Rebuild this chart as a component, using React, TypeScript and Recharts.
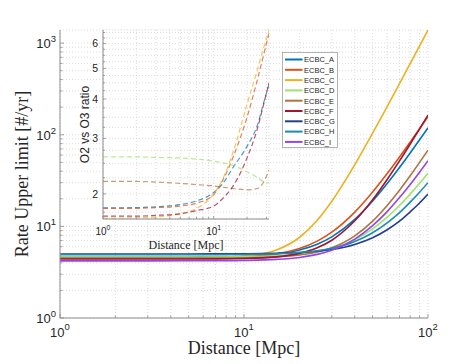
import React from 'react';
import { LineChart, Line, XAxis, YAxis, CartesianGrid } from 'recharts';

// ---------- main plot data (rate upper limit vs distance) ----------
const distances = [1, 2, 3, 5, 7, 10, 15, 20, 25, 30, 40, 50, 60, 70, 80, 90, 100];
const ecbcA = [4.6, 4.6, 4.6, 4.61, 4.64, 4.71, 4.99, 5.52, 6.39, 7.69, 11.9, 18.9, 29.3, 43.8, 63.2, 88, 119];
const ecbcB = [4.5, 4.5, 4.5, 4.52, 4.55, 4.65, 5.02, 5.73, 6.9, 8.64, 14.3, 23.7, 37.7, 57.2, 83.1, 116, 158];
const ecbcC = [4.5, 4.5, 4.5, 4.52, 4.56, 4.72, 5.52, 7.56, 11.65, 18.8, 47.2, 104, 203, 361, 598, 934, 1390];
const ecbcD = [4.6, 4.6, 4.6, 4.61, 4.62, 4.65, 4.76, 4.97, 5.29, 5.75, 7.17, 9.4, 12.6, 16.9, 22.5, 29.5, 38];
const ecbcE = [4.5, 4.5, 4.5, 4.5, 4.51, 4.54, 4.65, 4.87, 5.25, 5.85, 7.88, 11.4, 16.9, 24.8, 35.6, 49.9, 68];
const ecbcF = [4.4, 4.4, 4.4, 4.41, 4.42, 4.46, 4.65, 5.07, 5.83, 7.06, 11.5, 19.5, 32.5, 51.8, 79.2, 116, 164];
const ecbcG = [5, 5, 5, 5, 5.01, 5.03, 5.09, 5.19, 5.36, 5.6, 6.35, 7.51, 9.18, 11.4, 14.4, 18, 22.5];
const ecbcH = [4.9, 4.9, 4.9, 4.91, 4.91, 4.94, 5.02, 5.18, 5.42, 5.76, 6.83, 8.51, 10.9, 14.1, 18.4, 23.6, 30];
const ecbcI = [4.2, 4.2, 4.2, 4.21, 4.22, 4.25, 4.36, 4.58, 4.95, 5.49, 7.26, 10.2, 14.5, 20.6, 28.7, 39, 52];

const seriesNames = ['ECBC_A', 'ECBC_B', 'ECBC_C', 'ECBC_D', 'ECBC_E', 'ECBC_F', 'ECBC_G', 'ECBC_H', 'ECBC_I'];
const seriesColors = ['#0072BD', '#D95319', '#EDB120', '#9DE36E', '#B07440', '#A2142F', '#243F8C', '#1B8CB4', '#9046E8'];
const mainSeries = [ecbcA, ecbcB, ecbcC, ecbcD, ecbcE, ecbcF, ecbcG, ecbcH, ecbcI];

// ---------- inset data (O2 vs O3 ratio) ----------
const insetDistances = [1, 2, 3, 5, 7, 10, 12, 15, 20, 25, 28, 31.6];
const ratioA = [1.805, 1.81, 1.82, 1.85, 1.9, 2.02, 2.15, 2.43, 2.83, 3.33, 3.84, 4.46];
const ratioB = [1.8, 1.8, 1.81, 1.83, 1.87, 1.99, 2.2, 2.62, 3.5, 4.65, 5.45, 6.45];
const ratioC = [1.675, 1.68, 1.69, 1.73, 1.8, 2.0, 2.22, 2.72, 3.85, 5.0, 5.75, 6.6];
const ratioD = [2.62, 2.62, 2.61, 2.6, 2.58, 2.54, 2.51, 2.46, 2.35, 2.25, 2.19, 2.17];
const ratioE = [2.19, 2.19, 2.18, 2.16, 2.14, 2.12, 2.1, 2.08, 2.06, 2.08, 2.17, 2.38];
const ratioF = [1.7, 1.7, 1.71, 1.73, 1.77, 1.83, 1.93, 2.12, 2.6, 3.25, 3.8, 4.5];
const insetSeries = [ratioA, ratioB, ratioC, ratioD, ratioE, ratioF];

// ---------- ticks ----------
const mainXTicks = [1, 2, 3, 4, 5, 6, 7, 8, 9, 10, 20, 30, 40, 50, 60, 70, 80, 90, 100];
const mainXMajor = [1, 10, 100];
const mainYTicks = [1, 2, 3, 4, 5, 6, 7, 8, 9, 10, 20, 30, 40, 50, 60, 70, 80, 90, 100, 200, 300, 400, 500, 600, 700, 800, 900, 1000];
const mainYMajor = [1, 10, 100, 1000];
const mainXDomain = [1, 100];
const mainYDomain = [1, 1390];

const insetXTicks = [1, 2, 3, 4, 5, 6, 7, 8, 9, 10, 20, 30];
const insetXMajor = [1, 10];
const insetYTicks = [1.75, 2, 2.25, 2.5, 2.75, 3, 3.25, 3.5, 3.75, 4, 4.25, 4.5, 4.75, 5, 5.25, 5.5, 5.75, 6, 6.25, 6.5];
const insetYMajor = [2, 3, 4, 5, 6];
const insetXDomain = [1, 31.6];
const insetYDomain = [1.665, 6.62];

const mainData = distances.map((d, i) => {
  const row: Record<string, number> = { d };
  seriesNames.forEach((n, k) => { row[n] = mainSeries[k][i]; });
  return row;
});
const insetData = insetDistances.map((d, i) => {
  const row: Record<string, number> = { d };
  insetSeries.forEach((s, k) => { row[seriesNames[k]] = s[i]; });
  return row;
});

const AXIS = '#8c8c8c';
const TXT = '#262626';
const SANS = "'Liberation Sans', Arial, sans-serif";
const SERIF = "'Liberation Serif', 'Times New Roman', serif";

type Side = 'bottom' | 'top' | 'left' | 'right';
const makeTick = (side: Side, majors: number[], majLen: number, minLen: number,
  label?: (x: number, y: number, v: number) => React.ReactNode) => (props: any) => {
  const { x, y, payload } = props;
  const v = payload.value as number;
  const isMajor = majors.some((m) => Math.abs(m - v) < 1e-9);
  const L = isMajor ? majLen : minLen;
  let x2 = x, y2 = y;
  if (side === 'bottom') y2 = y - L;
  else if (side === 'top') y2 = y + L;
  else if (side === 'left') x2 = x + L;
  else x2 = x - L;
  return (
    <g>
      <line x1={x} y1={y} x2={x2} y2={y2} stroke={AXIS} strokeWidth={0.8} />
      {isMajor && label ? label(x, y, v) : null}
    </g>
  );
};

const exp10 = (v: number) => Math.round(Math.log10(v));

const mainBottomLabel = (x: number, y: number, v: number) => (
  <text x={x} y={y + 18.5} textAnchor="middle" fontFamily={SANS} fontSize={13} fill={TXT}>
    10<tspan dy={-6.5} fontSize={9.5}>{exp10(v)}</tspan>
  </text>
);
const mainLeftLabel = (x: number, y: number, v: number) => (
  <text x={x - 4} y={y + 5} textAnchor="end" fontFamily={SANS} fontSize={13} fill={TXT}>
    10<tspan dy={-6} fontSize={9.5}>{exp10(v)}</tspan>
  </text>
);
const insetBottomLabel = (x: number, y: number, v: number) => (
  <text x={x} y={y + 16} textAnchor="middle" fontFamily={SANS} fontSize={10} fill={TXT}>
    10<tspan dy={-5} fontSize={7}>{exp10(v)}</tspan>
  </text>
);
const insetLeftLabel = (x: number, y: number, v: number) => (
  <text x={x - 5} y={y + 3.7} textAnchor="end" fontFamily={SANS} fontSize={10.5} fill={TXT}>
    {v}
  </text>
);

export default function App() {
  return (
    <div style={{ position: 'absolute', left: 0, top: 0, width: 471, height: 364, background: '#fff' }}>
      {/* main chart */}
      <div style={{ position: 'absolute', left: 0, top: 0 }}>
        <LineChart width={471} height={364} data={mainData} margin={{ top: 30, right: 43, bottom: 0, left: 0 }}>
          <CartesianGrid stroke="#d4d4d4" strokeDasharray="1 2" strokeWidth={0.8} />
          <XAxis dataKey="d" type="number" scale="log" domain={mainXDomain} allowDataOverflow
            ticks={mainXTicks} interval={0} height={46} tickSize={0} tickMargin={0} tickLine={false}
            axisLine={{ stroke: AXIS }} tick={makeTick('bottom', mainXMajor, 4, 2.5, mainBottomLabel)}
            label={(p: any) => {
              const vb = p.viewBox;
              return (
                <text x={vb.x + vb.width / 2} y={vb.y + 36} textAnchor="middle" fontFamily={SERIF} fontSize={18} fill={TXT}>
                  Distance [Mpc]
                </text>
              );
            }} />
          <XAxis xAxisId="top" orientation="top" dataKey="d" type="number" scale="log" domain={mainXDomain} allowDataOverflow
            ticks={mainXTicks} interval={0} height={0} tickSize={0} tickMargin={0} tickLine={false}
            axisLine={{ stroke: AXIS }} tick={makeTick('top', mainXMajor, 4, 2.5)} />
          <YAxis type="number" scale="log" domain={mainYDomain} allowDataOverflow
            ticks={mainYTicks} interval={0} width={60} tickSize={0} tickMargin={0} tickLine={false}
            axisLine={{ stroke: AXIS }} tick={makeTick('left', mainYMajor, 4, 2.5, mainLeftLabel)}
            label={(p: any) => {
              const vb = p.viewBox;
              const cx = 22;
              const cy = vb.y + vb.height / 2;
              return (
                <text x={cx} y={cy} transform={`rotate(-90 ${cx} ${cy})`} textAnchor="middle" dominantBaseline="central"
                  fontFamily={SERIF} fontSize={18} fill={TXT}>
                  Rate Upper limit [#/yr]
                </text>
              );
            }} />
          <YAxis yAxisId="right" orientation="right" type="number" scale="log" domain={mainYDomain} allowDataOverflow
            ticks={mainYTicks} interval={0} width={0} tickSize={0} tickMargin={0} tickLine={false}
            axisLine={{ stroke: AXIS }} tick={makeTick('right', mainYMajor, 4, 2.5)} />
          {seriesNames.map((n, k) => (
            <Line key={n} dataKey={n} type="monotone" stroke={seriesColors[k]} strokeWidth={1.6}
              dot={false} isAnimationActive={false} />
          ))}
        </LineChart>
      </div>

      {/* inset chart */}
      <div style={{ position: 'absolute', left: 0, top: 0, pointerEvents: 'none' }}>
        <LineChart width={471} height={364} data={insetData} margin={{ top: 30, right: 202, bottom: 0, left: 0 }}>
          <CartesianGrid stroke="#d4d4d4" strokeDasharray="1 2" strokeWidth={0.8} fill="#fff" fillOpacity={1} />
          <XAxis dataKey="d" type="number" scale="log" domain={insetXDomain} allowDataOverflow
            ticks={insetXTicks} interval={0} height={145} tickSize={0} tickMargin={0} tickLine={false}
            axisLine={{ stroke: AXIS }} tick={makeTick('bottom', insetXMajor, 3, 2, insetBottomLabel)}
            label={(p: any) => {
              const vb = p.viewBox;
              return (
                <text x={vb.x + vb.width / 2} y={vb.y + 30} textAnchor="middle" fontFamily={SERIF} fontSize={12} fill={TXT}>
                  Distance [Mpc]
                </text>
              );
            }} />
          <XAxis xAxisId="top" orientation="top" dataKey="d" type="number" scale="log" domain={insetXDomain} allowDataOverflow
            ticks={insetXTicks} interval={0} height={0} tickSize={0} tickMargin={0} tickLine={false}
            axisLine={{ stroke: AXIS }} tick={makeTick('top', insetXMajor, 3, 2)} />
          <YAxis type="number" scale="log" domain={insetYDomain} allowDataOverflow
            ticks={insetYTicks} interval={0} width={103} tickSize={0} tickMargin={0} tickLine={false}
            axisLine={{ stroke: AXIS }} tick={makeTick('left', insetYMajor, 3, 2, insetLeftLabel)}
            label={(p: any) => {
              const vb = p.viewBox;
              const cx = 85;
              const cy = vb.y + vb.height / 2;
              return (
                <text x={cx} y={cy} transform={`rotate(-90 ${cx} ${cy})`} textAnchor="middle" dominantBaseline="central"
                  fontFamily={SANS} fontSize={12} fill={TXT}>
                  O2 vs O3 ratio
                </text>
              );
            }} />
          <YAxis yAxisId="right" orientation="right" type="number" scale="log" domain={insetYDomain} allowDataOverflow
            ticks={insetYTicks} interval={0} width={0} tickSize={0} tickMargin={0} tickLine={false}
            axisLine={{ stroke: AXIS }} tick={makeTick('right', insetYMajor, 3, 2)} />
          {insetSeries.map((_, k) => (
            <Line key={seriesNames[k]} dataKey={seriesNames[k]} type="monotone" stroke={seriesColors[k]}
              strokeOpacity={0.72} strokeWidth={1.2} strokeDasharray="5 3" dot={false} isAnimationActive={false} />
          ))}
        </LineChart>
      </div>

      {/* legend */}
      <svg width={471} height={364} style={{ position: 'absolute', left: 0, top: 0, pointerEvents: 'none' }}>
        <rect x={282.5} y={52.5} width={55} height={95} fill="#fff" stroke="#a0a0a0" strokeWidth={0.8} />
        {seriesNames.map((n, k) => {
          const yy = 59.5 + k * 10.3;
          return (
            <g key={n}>
              <line x1={285} y1={yy} x2={302.5} y2={yy} stroke={seriesColors[k]} strokeWidth={2} />
              <text x={304} y={yy + 2.8} fontFamily={SANS} fontSize={7.5} fill={TXT}>{n}</text>
            </g>
          );
        })}
      </svg>
    </div>
  );
}
